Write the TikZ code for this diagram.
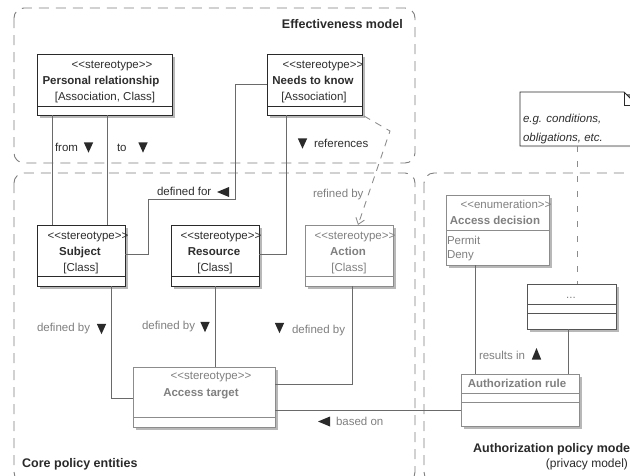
\documentclass[tikz,border=0pt]{standalone}
\usepackage{fontspec}
\newfontfamily\lsans{Liberation Sans}
\usetikzlibrary{shadows,arrows.meta}
\definecolor{ink}{HTML}{2A2A2A}
\definecolor{soft}{HTML}{8C8C8C}
\definecolor{wirec}{HTML}{6A6A6A}
\definecolor{framec}{HTML}{7E7E7E}
\definecolor{shade}{HTML}{B8B8B8}
\definecolor{txt}{HTML}{2E2E2E}
\definecolor{graytxt}{HTML}{808080}
\definecolor{dotsc}{HTML}{555555}
\tikzset{
 fnt/.style={font=\lsans\fontsize{11.5}{13.8}\selectfont},
 lbl/.style={fnt, inner sep=0pt, outer sep=0pt, anchor=base, text=txt},
 lblw/.style={lbl, anchor=base west},
 glbl/.style={lbl, text=graytxt},
 glblw/.style={glbl, anchor=base west},
 bname/.style={lbl, font=\lsans\fontsize{11.5}{13.8}\selectfont\bfseries},
 gname/.style={bname, text=graytxt},
 title/.style={inner sep=0pt, text=ink, font=\lsans\fontsize{12.5}{15}\selectfont\bfseries},
 cls/.style={draw=ink, line width=0.9pt, fill=white, rectangle, inner sep=0pt, outer sep=0pt, anchor=north west,
   drop shadow={shadow xshift=2.5pt, shadow yshift=-2.5pt, fill=shade, opacity=1}},
 gcls/.style={cls, draw=soft},
 dcls/.style={cls, draw=dotsc},
 frm/.style={draw=framec, line width=0.9pt, dash pattern=on 10pt off 7pt, rounded corners=10pt},
 wire/.style={draw=wirec, line width=0.85pt},
 refl/.style={draw=soft, line width=0.85pt, dash pattern=on 7pt off 6pt, -{Straight Barb[length=6pt,width=9pt]}},
 notelink/.style={draw=soft, line width=0.85pt, dash pattern=on 6pt off 9pt},
 tdown/.pic={\fill[ink] (-4.7,-5.2) -- (4.7,-5.2) -- (0,5.2) -- cycle;},
 tup/.pic={\fill[ink] (-4.7,5.5) -- (4.7,5.5) -- (0,-6) -- cycle;},
 tleft/.pic={\fill[ink] (6,-5) -- (6,5) -- (-6,0) -- cycle;},
}
\begin{document}
\begin{tikzpicture}[x=1pt,y=-1pt]
\path[use as bounding box, clip] (0,0) rectangle (630,475);
\fill[white] (0,0) rectangle (630,475);

% frames
\draw[frm] (14,8) rectangle (415,163);
\draw[frm] (14,173) rectangle (415,482);
\draw[frm] (424,173) rectangle (660,482);
\node[title, anchor=base east] (tEff) at (403,28) {Effectiveness model};
\node[title, anchor=base west] (tCore) at (22,467) {Core policy entities};
\node[title, anchor=base west] (tAuth) at (473,452) {Authorization policy model};
\node[lbl, anchor=base east, font=\lsans\fontsize{12}{14}\selectfont, text=ink] (tPriv) at (628,467) {(privacy model)};

% class boxes
\node[cls, minimum width=135pt, minimum height=61pt] (pr) at (37,54) {};
\node[cls, minimum width=95pt, minimum height=61pt] (nk) at (267,54) {};
\node[cls, minimum width=88pt, minimum height=61pt] (sub) at (37,225) {};
\node[cls, minimum width=88pt, minimum height=61pt] (res) at (171,225) {};
\node[gcls, minimum width=88pt, minimum height=61pt] (act) at (305,225) {};
\node[gcls, minimum width=103pt, minimum height=70pt] (ad) at (446,195) {};
\node[dcls, minimum width=89pt, minimum height=45pt] (dots) at (527,284) {};
\node[gcls, minimum width=118pt, minimum height=52pt] (ar) at (461,374) {};
\node[gcls, minimum width=142pt, minimum height=60pt] (at) at (133,367) {};

% compartments
\draw[ink, line width=0.9pt] (pr.west |- 0,106) -- (pr.east |- 0,106);
\draw[ink, line width=0.9pt] (nk.west |- 0,106) -- (nk.east |- 0,106);
\draw[ink, line width=0.9pt] (sub.west |- 0,276) -- (sub.east |- 0,276);
\draw[ink, line width=0.9pt] (res.west |- 0,276) -- (res.east |- 0,276);
\draw[soft, line width=0.9pt] (act.west |- 0,276) -- (act.east |- 0,276);
\draw[soft, line width=0.9pt] (ad.west |- 0,230) -- (ad.east |- 0,230);
\draw[dotsc, line width=0.9pt] (dots.west |- 0,304) -- (dots.east |- 0,304);
\draw[dotsc, line width=0.9pt] (dots.west |- 0,313) -- (dots.east |- 0,313);
\draw[soft, line width=0.9pt] (ar.west |- 0,393) -- (ar.east |- 0,393);
\draw[soft, line width=0.9pt] (ar.west |- 0,402) -- (ar.east |- 0,402);
\draw[soft, line width=0.9pt] (at.west |- 0,417) -- (at.east |- 0,417);

% class texts
\node[lbl] (prS) at (112,68) {<<stereotype>>};
\node[bname] (prN) at (101,84.5) {Personal relationship};
\node[lbl] (prK) at (105,100.5) {[Association, Class]};
\node[lbl] (nkS) at (323,68) {<<stereotype>>};
\node[bname] (nkN) at (313,84.5) {Needs to know};
\node[lbl] (nkK) at (314,100.5) {[Association]};
\node[lbl] (subS) at (88,239) {<<stereotype>>};
\node[bname] (subN) at (80,255) {Subject};
\node[lbl] (subK) at (81,271) {[Class]};
\node[lbl] (resS) at (221,239) {<<stereotype>>};
\node[bname] (resN) at (214,255) {Resource};
\node[lbl] (resK) at (215,271) {[Class]};
\node[glbl] (actS) at (355,239) {<<stereotype>>};
\node[gname] (actN) at (348,255) {Action};
\node[glbl] (actK) at (349,271) {[Class]};
\node[glbl] (adS) at (506,208) {<<enumeration>>};
\node[gname] (adN) at (495,224) {Access decision};
\node[glblw] (adP) at (447,244) {Permit};
\node[glblw] (adD) at (447,258) {Deny};
\node[glbl] (dotsT) at (571,298) {...};
\node[gname] (arN) at (517,387) {Authorization rule};
\node[glbl] (atS) at (211,379) {<<stereotype>>};
\node[gname] (atN) at (201,396) {Access target};

% note
\fill[shade] (522.5,94.5) -- (639.5,94.5) -- (639.5,148.5) -- (522.5,148.5) -- cycle;
\draw[ink, line width=0.9pt, fill=white] (520,92) -- (624,92) -- (637,105) -- (637,146) -- (520,146) -- cycle;
\draw[ink, line width=0.9pt] (624,92) |- (637,105);
\node[inner sep=0pt, outer sep=0pt, minimum width=117pt, minimum height=54pt, anchor=north west] (note) at (520,92) {};
\node[lblw, font=\lsans\fontsize{11.5}{13.8}\selectfont\itshape] (noteA) at (523,122) {e.g. conditions,};
\node[lblw, font=\lsans\fontsize{11.5}{13.8}\selectfont\itshape] (noteB) at (523,141) {obligations, etc.};

% connectors
\draw[wire] (pr.south -| 52,0) -- (sub.north -| 52,0);
\draw[wire] (pr.south -| 107,0) -- (sub.north -| 107,0);
\draw[wire] (nk.west |- 0,84) -| (235,199) -| (148,254) -- (sub.east |- 0,254);
\draw[wire] (nk.south -| 286,0) |- (res.east |- 0,254);
\draw[refl] ([shift={(2,1)}]nk.south east) -- (390,131) -- (act.north -| 358,0);
\draw[wire] (sub.south -| 111,0) |- (at.west |- 0,398);
\draw[wire] (res.south -| 215,0) -- (at.north -| 215,0);
\draw[wire] (act.south -| 352,0) |- (at.east |- 0,384);
\draw[wire] (at.east |- 0,410) -- (ar.west |- 0,410);
\draw[wire] (ad.south -| 475,0) -- (ar.north -| 475,0);
\draw[wire] (dots.south -| 568,0) -- (ar.north -| 568,0);
\draw[notelink] (note.south -| 577,0) -- (dots.north -| 577,0);

% connector labels
\node[lblw] (lFrom) at (55,151) {from};
\pic at (88.5,147.5) {tdown};
\node[lblw] (lTo) at (117,151) {to};
\pic at (143,147.5) {tdown};
\pic at (302.5,143.5) {tdown};
\node[lblw] (lRef) at (314,147) {references};
\node[lblw] (lDefFor) at (157,195.5) {defined for};
\pic at (223,192) {tleft};
\node[glblw] (lRefBy) at (313,197) {refined by};
\node[glblw] (lDefBy1) at (37,331) {defined by};
\pic at (101.5,329) {tdown};
\node[glblw] (lDefBy2) at (142,329) {defined by};
\pic at (205,327) {tdown};
\pic at (279.5,328) {tdown};
\node[glblw] (lDefBy3) at (292,333) {defined by};
\pic at (324,421.5) {tleft};
\node[glblw] (lBased) at (336,425) {based on};
\node[glblw] (lResults) at (479,359) {results in};
\pic at (536.5,354) {tup};
\end{tikzpicture}
\end{document}
